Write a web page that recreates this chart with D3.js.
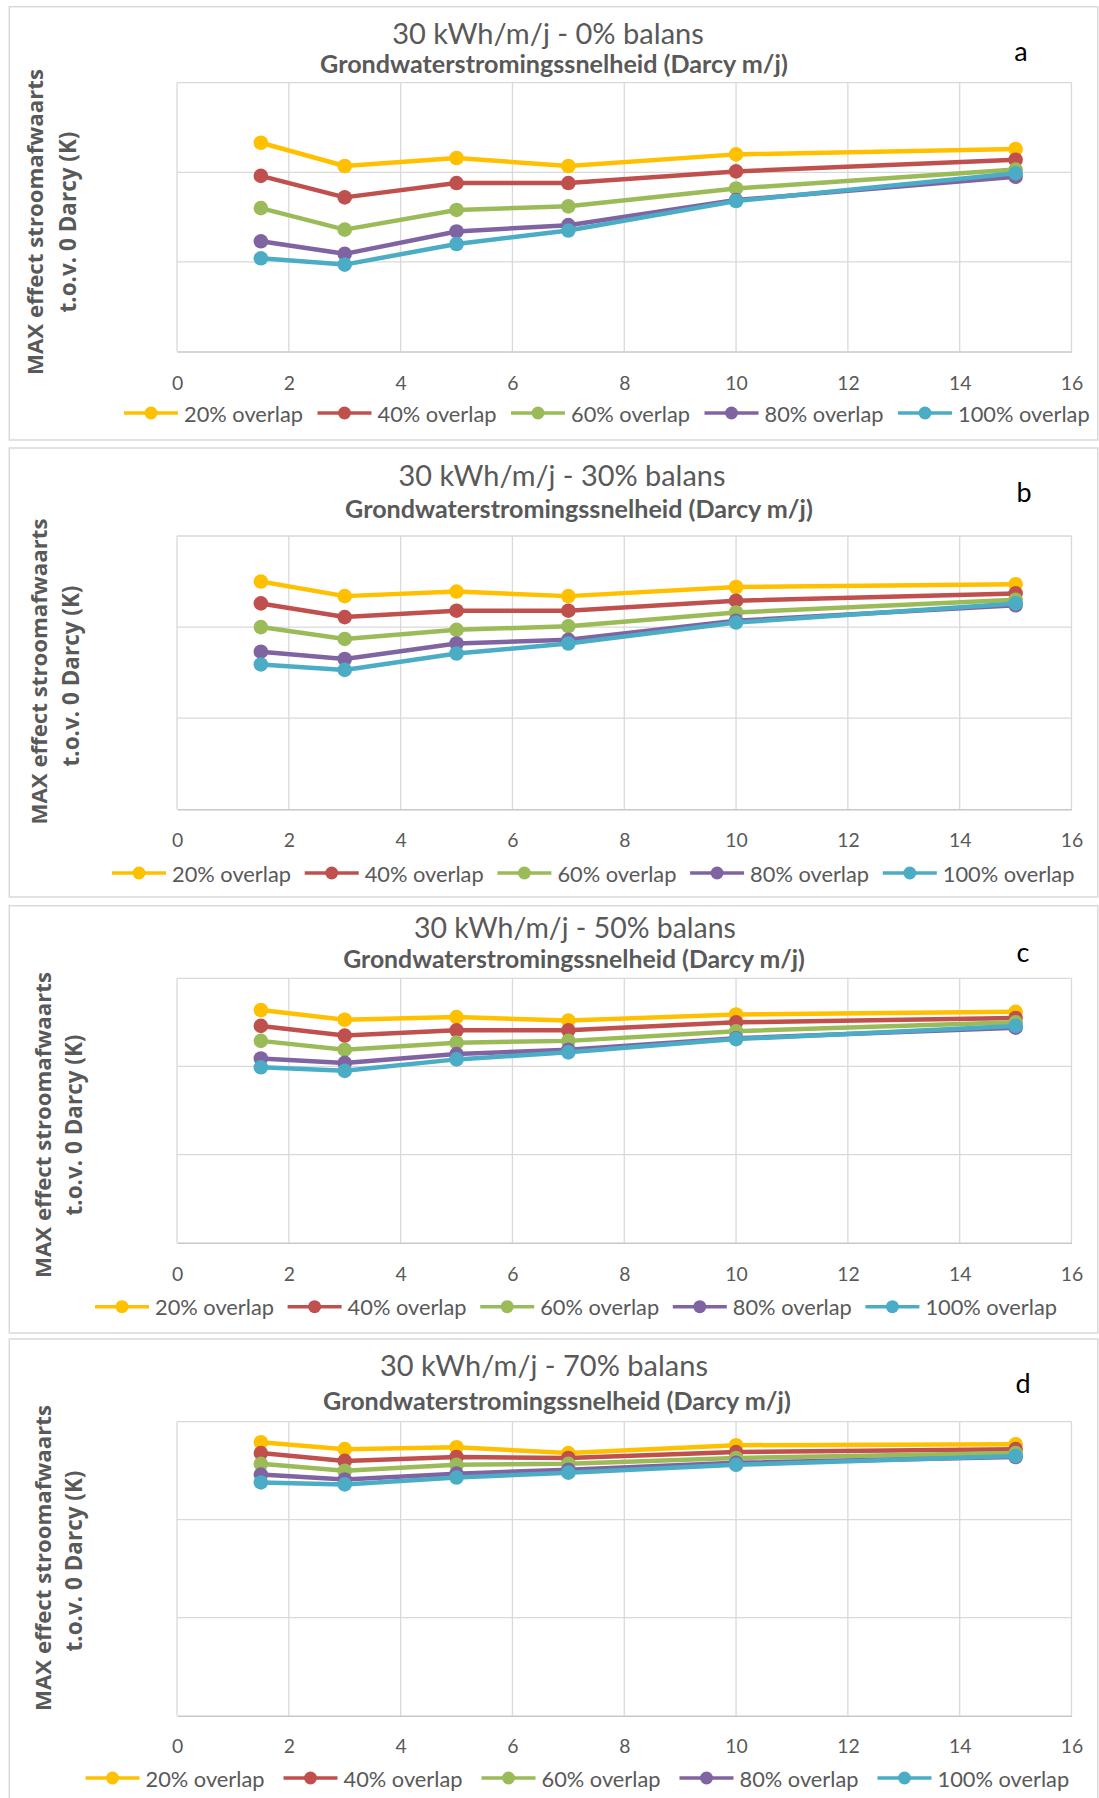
<!DOCTYPE html>
<html><head><meta charset="utf-8">
<script src="https://cdn.jsdelivr.net/npm/d3@7"></script>
<style>body{margin:0;background:#fff} svg{display:block}</style>
</head><body><svg id="chart" width="1099" height="1798"></svg>
<script>
// ---- data ----
const darcy = [1.5, 3, 5, 7, 10, 15];
const xTickValues = [0, 2, 4, 6, 8, 10, 12, 14, 16];
const yGridValues = [0, 1, 2, 3];
const seriesNames = ["20% overlap", "40% overlap", "60% overlap", "80% overlap", "100% overlap"];
const seriesColors = ["#FFC000", "#C0504D", "#9BBB59", "#8064A2", "#4BACC6"];
const panelTitles = ["30 kWh/m/j - 0% balans", "30 kWh/m/j - 30% balans", "30 kWh/m/j - 50% balans", "30 kWh/m/j - 70% balans"];
const panelLetters = ["a", "b", "c", "d"];
const xAxisTitle = "Grondwaterstromingssnelheid (Darcy m/j)";
const yAxisTitle = ["MAX effect stroomafwaarts", "t.o.v. 0 Darcy (K)"];

const balans0 = [
  [2.33, 2.07, 2.16, 2.07, 2.20, 2.26],
  [1.96, 1.72, 1.88, 1.88, 2.01, 2.14],
  [1.60, 1.36, 1.58, 1.62, 1.82, 2.03],
  [1.23, 1.09, 1.34, 1.41, 1.69, 1.95],
  [1.04, 0.97, 1.20, 1.35, 1.68, 1.99]
];
const balans30 = [
  [2.50, 2.34, 2.39, 2.34, 2.44, 2.47],
  [2.26, 2.11, 2.18, 2.18, 2.29, 2.37],
  [2.00, 1.87, 1.97, 2.01, 2.16, 2.30],
  [1.73, 1.65, 1.82, 1.86, 2.07, 2.24],
  [1.59, 1.53, 1.71, 1.82, 2.05, 2.26]
];
const balans50 = [
  [2.64, 2.53, 2.56, 2.52, 2.59, 2.62],
  [2.46, 2.35, 2.41, 2.41, 2.50, 2.55],
  [2.29, 2.19, 2.27, 2.29, 2.40, 2.50],
  [2.09, 2.04, 2.14, 2.19, 2.32, 2.44],
  [1.99, 1.95, 2.08, 2.16, 2.31, 2.46]
];
const balans70 = [
  [2.79, 2.72, 2.74, 2.68, 2.76, 2.77],
  [2.68, 2.60, 2.64, 2.63, 2.69, 2.72],
  [2.57, 2.50, 2.56, 2.57, 2.63, 2.68],
  [2.46, 2.41, 2.47, 2.51, 2.58, 2.64],
  [2.38, 2.36, 2.43, 2.48, 2.56, 2.65]
];
const panelData = [balans0, balans30, balans50, balans70];

// ---- layout ----
const layout = [
  {frame:[6.7,440], plot:[82.7,351.5], title:[548,32,312], sub:[554,63,468], letter:[1021,50], xlabY:382, leg:{y:413,m0:151,step:193.5}, yt:[34,222,67,222]},
  {frame:[448,897], plot:[536,809.3], title:[562,474,327], sub:[579,508,468], letter:[1024,491], xlabY:839.5, leg:{y:873,m0:139,step:192.7}, yt:[38.5,671.5,70,676]},
  {frame:[905.7,1333], plot:[978.3,1242.7], title:[575,927,322], sub:[574,958.5,462], letter:[1023,951], xlabY:1273.5, leg:{y:1306.7,m0:122,step:192.6}, yt:[42,1125,73.6,1125]},
  {frame:[1339,1810], plot:[1421.7,1715.7], title:[544,1364,328], sub:[557,1400,468], letter:[1023,1382], xlabY:1746, leg:{y:1778,m0:112.5,step:198}, yt:[42,1558,73.6,1561]}
];
const plotX = [177, 1071.5];
const textGrey = "#595959";

const svg = d3.select("#chart");

function fit(sel, target) {
  const w = sel.node().getComputedTextLength();
  const fs = parseFloat(sel.attr("font-size"));
  sel.attr("font-size", fs * target / w);
  return fs * target / w;
}

panelData.forEach((data, pi) => {
  const L = layout[pi];
  const g = svg.append("g");
  // frame
  g.append("rect").attr("x", 9.3).attr("y", L.frame[0]).attr("width", 1088.5).attr("height", L.frame[1] - L.frame[0])
    .attr("fill", "none").attr("stroke", "#d9d9d9").attr("stroke-width", 1.5);

  const x = d3.scaleLinear().domain([0, 16]).range(plotX);
  const y = d3.scaleLinear().domain([0, 3]).range([L.plot[1], L.plot[0]]);

  // vertical gridlines
  g.append("g").selectAll("line").data(xTickValues).join("line")
    .attr("x1", d => x(d)).attr("x2", d => x(d)).attr("y1", y(3)).attr("y2", y(0))
    .attr("stroke", "#d9d9d9").attr("stroke-width", 1.3);
  // horizontal gridlines
  g.append("g").selectAll("line").data(yGridValues.filter(v => v > 0)).join("line")
    .attr("x1", x(0)).attr("x2", x(16)).attr("y1", d => y(d)).attr("y2", d => y(d))
    .attr("stroke", "#d9d9d9").attr("stroke-width", 1.3);

  // x axis
  const xAxis = d3.axisBottom(x).tickValues(xTickValues).tickSize(0).tickPadding(0);
  const ax = g.append("g").attr("transform", `translate(0,${y(0)})`).call(xAxis);
  ax.select(".domain").attr("stroke", "#c8c8c8").attr("stroke-width", 1.6);
  const tickTexts = ax.selectAll("text").attr("font-family", "Lato, 'Open Sans', sans-serif").attr("font-size", 20)
    .attr("fill", textGrey).attr("dy", null).attr("y", L.xlabY - y(0)).attr("dominant-baseline", "central");
  const last = d3.select(tickTexts.nodes()[tickTexts.size() - 1]);
  const tfs = fit(last, 22.5);
  tickTexts.attr("font-size", tfs);

  // series
  const line = d3.line().x((d, i) => x(darcy[i])).y(d => y(d));
  data.forEach((vals, si) => {
    g.append("path").datum(vals).attr("d", line).attr("fill", "none")
      .attr("stroke", seriesColors[si]).attr("stroke-width", 4.5).attr("stroke-linejoin", "round").attr("stroke-linecap", "round");
    g.append("g").selectAll("circle").data(vals).join("circle")
      .attr("cx", (d, i) => x(darcy[i])).attr("cy", d => y(d)).attr("r", 7.3).attr("fill", seriesColors[si]);
  });

  // titles
  const t = g.append("text").attr("x", L.title[0]).attr("y", L.title[1]).attr("text-anchor", "middle")
    .attr("dominant-baseline", "central").attr("font-family", "Lato, sans-serif").attr("font-size", 24)
    .attr("fill", textGrey).text(panelTitles[pi]);
  fit(t, L.title[2]);
  const s = g.append("text").attr("x", L.sub[0]).attr("y", L.sub[1]).attr("text-anchor", "middle")
    .attr("dominant-baseline", "central").attr("font-family", "Lato, sans-serif").attr("font-weight", "bold").attr("font-size", 20)
    .attr("fill", textGrey).text(xAxisTitle);
  fit(s, L.sub[2]);
  g.append("text").attr("x", L.letter[0]).attr("y", L.letter[1]).attr("text-anchor", "middle")
    .attr("dominant-baseline", "central").attr("font-family", "Lato, sans-serif").attr("font-size", 27)
    .attr("fill", "#000").text(panelLetters[pi]);

  // y-axis titles
  const yt1 = g.append("text").attr("transform", `translate(${L.yt[0]},${L.yt[1]}) rotate(-90)`).attr("text-anchor", "middle")
    .attr("dominant-baseline", "central").attr("font-family", "'Open Sans', sans-serif").attr("font-weight", "bold").attr("font-size", 20)
    .attr("fill", textGrey).text(yAxisTitle[0]);
  fit(yt1, 306);
  const yt2 = g.append("text").attr("transform", `translate(${L.yt[2]},${L.yt[3]}) rotate(-90)`).attr("text-anchor", "middle")
    .attr("dominant-baseline", "central").attr("font-family", "'Open Sans', sans-serif").attr("font-weight", "bold").attr("font-size", 20)
    .attr("fill", textGrey).text(yAxisTitle[1]);
  fit(yt2, 181);

  // legend
  let legFs = null;
  seriesNames.forEach((name, si) => {
    const m = L.leg.m0 + si * L.leg.step;
    const lg = g.append("g");
    lg.append("line").attr("x1", m - 27).attr("x2", m + 27).attr("y1", L.leg.y).attr("y2", L.leg.y)
      .attr("stroke", seriesColors[si]).attr("stroke-width", 3.5);
    lg.append("circle").attr("cx", m).attr("cy", L.leg.y).attr("r", 6.5).attr("fill", seriesColors[si]);
    const tx = lg.append("text").attr("x", m + 33).attr("y", L.leg.y).attr("dominant-baseline", "central")
      .attr("font-family", "Lato, sans-serif").attr("font-size", legFs || 19).attr("fill", textGrey).text(name);
    if (si === 0) legFs = fit(tx, 119);
  });
});
</script>
</body></html>
